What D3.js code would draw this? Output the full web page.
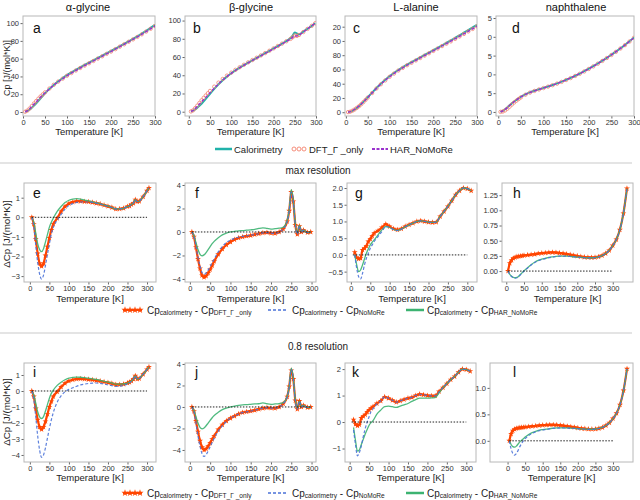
<!DOCTYPE html>
<html>
<head>
<meta charset="utf-8">
<script src="https://cdn.jsdelivr.net/npm/d3@7"></script>
<style>
  body { margin: 0; background: #fff; }
  svg text { font-family: "Liberation Sans", Arial, sans-serif; }
</style>
</head>
<body>
<svg id="chart" width="640" height="500"></svg>
<script>
// ---- top row: absolute heat capacity, Cp [J/(mol*K)] ----
const T_TOP = [5,10,15,20,25,30,35,40,45,50,60,70,80,90,100,110,120,130,140,150,160,170,180,190,200,210,220,230,240,250,260,270,280,290,300];
const T_TOP_B = [5,10,15,20,25,30,35,40,45,50,60,70,80,90,100,110,120,130,140,150,160,170,180,190,200,210,220,230,240,245,250,255,260,270,280,290,298];

const calA = [0.3,1.2,2.8,4.8,7.2,9.8,12.6,15.5,18.3,21,26,30.5,34.5,38,41.5,44.6,47.5,50.3,53,55.6,58.2,60.8,63.4,66,68.6,71.2,73.9,76.6,79.4,82.2,85.1,88.2,91.3,94.6,98];
const dftA = [0.3,1.6,3.9,6.7,9.6,12.3,15,17.5,19.8,22.1,26.4,30.6,34.2,37.5,40.8,43.8,46.7,49.5,52.2,54.8,57.4,60.1,62.7,65.4,68,70.7,73.5,76.2,79,81.7,84.5,87.4,90.5,93.6,96.7];
const harA = [0.3,1.5,3.6,6.2,8.9,11.6,14.2,16.8,19.2,21.5,26.1,30.3,34,37.3,40.7,43.7,46.6,49.4,52.1,54.8,57.4,60.1,62.7,65.4,68,70.7,73.5,76.2,79,81.7,84.5,87.4,90.5,93.6,96.7];

const calB = [0.3,1.1,2.6,4.4,6.5,8.8,11.3,14,16.8,19.6,25,30,34.5,38.5,42,45.3,48.3,51.1,53.8,56.4,59,61.6,64.2,66.8,69.4,72,74.7,77.5,80.8,83.5,87,85.8,84.8,87.9,91,94.2,97];
const dftB = [0.3,1.5,3.9,6.7,9.6,12.5,15.15,17.75,20.3,22.8,27.5,31.9,35.95,39.6,42.85,45.95,48.8,51.5,54.15,56.7,59.2,61.75,64.3,66.85,69.5,72.1,74.7,77.25,79.9,81.7,83.7,83.2,84.2,87.4,90.85,94.25,97];
const harB = [0.3,1.4,3.5,5.9,8.4,10.85,13.25,15.75,18.3,20.85,25.8,30.5,34.75,38.6,42,45.25,48.2,50.95,53.65,56.2,58.8,61.3,63.85,66.5,69.15,71.7,74.4,77.1,79.8,81.6,83.4,83.1,84.1,87.35,90.85,94.25,97];

const calC = [0.2,0.8,2,3.8,6,8.5,11.4,14.5,17.7,21,27.5,34,40,45.5,50.5,55,59.2,63,66.7,70.2,73.6,77,80.4,83.7,87,90.4,93.8,97.2,100.7,104.3,107.9,111.6,115.3,118.9,122.5];
const dftC = [0.2,0.7,2.1,3.9,6.1,8.4,11.2,14.2,17.3,20.5,26.9,33.3,39.2,44.6,49.7,54.2,58.5,62.2,65.9,69.3,72.7,76,79.4,82.7,86,89.4,92.8,96.1,99.4,102.9,106.3,109.8,113.4,116.9,120.5];
const harC = [0.2,0.8,2.3,4.2,6.3,8.7,11.5,14.4,17.4,20.6,27,33.4,39.3,44.7,49.7,54.3,58.5,62.3,65.9,69.4,72.8,76.1,79.5,82.8,86.1,89.5,92.9,96.2,99.5,103,106.4,109.9,113.5,117,120.6];

const calD = [0.3,1.5,3.5,6,8.8,11.4,13.8,16,18.2,20.2,23.4,26,28.2,30.1,32,33.9,35.9,38,40.3,42.8,45.4,48.2,51.1,54.2,57.5,60.9,64.5,68.2,72.1,76.1,80.3,84.7,89.2,94,99];
const dftD = [0.1,0.6,2,4.3,7,9.8,12.5,14.9,17.2,19.4,22.9,25.7,28,29.9,31.8,33.7,35.6,37.7,40,42.5,45.1,47.9,50.8,53.9,57.2,60.6,64.2,67.9,71.8,75.8,80,84.4,88.9,93.7,98.7];
const harD = [0.3,1.4,3.3,5.8,8.6,11.2,13.6,15.9,18.1,20.1,23.3,25.9,28.1,30,31.9,33.8,35.8,37.9,40.2,42.7,45.3,48.1,51,54.1,57.4,60.8,64.4,68.1,72,76,80.2,84.6,89.1,93.9,98.9];

// ---- difference panels, ΔCp [J/(mol*K)] ----
const T_GLY = [5,10,15,20,25,30,35,40,45,50,55,60,70,80,90,100,110,120,130,140,150,160,170,180,190,200,210,220,230,240,250,255,260,265,270,275,280,290,300,305];
const T_BETA = [5,10,15,20,25,30,35,40,45,50,55,60,70,80,90,100,110,120,130,140,150,160,170,180,190,200,210,220,230,240,245,250,255,260,265,270,275,280,290,298];
const T_ALA = [10,15,20,25,30,35,40,45,50,55,60,70,80,90,100,110,120,130,140,150,160,170,180,190,200,210,220,230,240,250,260,270,280,290,300,310];
const T_NAP = [5,10,15,20,25,30,35,40,45,50,60,70,80,90,100,110,120,130,140,150,160,170,180,190,200,210,220,230,240,250,260,270,280,290,300,310,320,330,340];

// max resolution
const dDftE = [0,-0.35,-1.1,-1.85,-2.35,-2.5,-2.35,-1.95,-1.5,-1.05,-0.65,-0.35,-0.05,0.3,0.55,0.7,0.78,0.82,0.82,0.8,0.79,0.76,0.72,0.68,0.62,0.56,0.5,0.42,0.43,0.46,0.55,0.58,0.65,0.72,0.9,0.8,0.82,1.05,1.35,1.5];
const dNmrE = [0,-0.45,-1.4,-2.3,-2.9,-3.15,-2.95,-2.45,-1.9,-1.35,-0.85,-0.5,-0.15,0.15,0.42,0.6,0.7,0.76,0.78,0.78,0.78,0.76,0.72,0.68,0.62,0.56,0.5,0.42,0.43,0.46,0.55,0.58,0.65,0.72,0.9,0.8,0.82,1.05,1.35,1.5];
const dHarE = [0,-0.25,-0.8,-1.35,-1.65,-1.75,-1.6,-1.25,-0.88,-0.5,-0.25,-0.05,0.3,0.55,0.75,0.87,0.93,0.95,0.93,0.88,0.84,0.79,0.74,0.69,0.63,0.57,0.5,0.43,0.43,0.46,0.55,0.58,0.65,0.72,0.9,0.8,0.82,1.05,1.35,1.5];

const dDftF = [0,-0.4,-1.3,-2.3,-3.1,-3.7,-3.85,-3.75,-3.5,-3.2,-2.85,-2.5,-1.9,-1.45,-1.1,-0.85,-0.65,-0.5,-0.42,-0.35,-0.3,-0.22,-0.15,-0.08,-0.05,-0.1,-0.12,0,0.25,0.9,1.8,3.4,2.6,0.6,-0.2,0.5,0,0.15,-0.05,0];
const dNmrF = [0,-0.4,-1.2,-2.15,-2.9,-3.45,-3.6,-3.5,-3.25,-2.95,-2.6,-2.3,-1.7,-1.25,-0.9,-0.7,-0.55,-0.45,-0.38,-0.32,-0.28,-0.22,-0.15,-0.08,-0.05,-0.1,-0.12,0,0.25,0.9,1.8,3.4,2.6,0.6,-0.2,0.5,0,0.15,-0.05,0];
const dHarF = [0,-0.3,-0.9,-1.5,-1.9,-2.03,-1.95,-1.75,-1.5,-1.25,-1.0,-0.8,-0.5,-0.25,-0.1,0,0.05,0.1,0.12,0.15,0.18,0.22,0.3,0.35,0.3,0.25,0.28,0.32,0.4,1.0,1.9,3.6,2.7,0.7,-0.1,0.55,0.05,0.15,-0.05,0];

const dDftG = [0.08,-0.08,-0.12,-0.1,0.15,0.2,0.27,0.4,0.48,0.57,0.65,0.72,0.82,0.92,0.85,0.78,0.75,0.78,0.85,0.9,0.95,1.0,1.02,1.0,0.98,0.97,0.98,1.15,1.3,1.45,1.62,1.8,1.92,2.0,1.98,1.92];
const dNmrG = [0,-0.4,-0.65,-0.72,-0.55,-0.3,-0.1,0.05,0.2,0.3,0.4,0.55,0.7,0.85,0.82,0.76,0.73,0.77,0.84,0.9,0.95,1.0,1.02,1.0,0.98,0.97,0.98,1.15,1.3,1.45,1.62,1.8,1.92,2.0,1.98,1.92];
const dHarG = [0,-0.3,-0.5,-0.45,-0.3,-0.12,0.05,0.18,0.3,0.38,0.45,0.6,0.75,0.85,0.82,0.76,0.73,0.77,0.84,0.9,0.95,1.0,1.02,1.0,0.98,0.97,0.98,1.15,1.3,1.45,1.62,1.8,1.92,2.0,1.98,1.92];

const dDftH = [0,0.13,0.18,0.21,0.225,0.236,0.242,0.247,0.252,0.258,0.265,0.27,0.278,0.288,0.295,0.3,0.305,0.307,0.305,0.298,0.29,0.28,0.27,0.258,0.248,0.238,0.23,0.225,0.222,0.225,0.235,0.255,0.29,0.34,0.42,0.52,0.68,0.95,1.36];
const dNmrH = [0,-0.06,-0.09,-0.11,-0.115,-0.11,-0.09,-0.06,-0.03,0,0.05,0.1,0.14,0.17,0.19,0.205,0.22,0.23,0.24,0.245,0.245,0.243,0.24,0.235,0.23,0.225,0.22,0.218,0.218,0.222,0.233,0.254,0.29,0.34,0.42,0.52,0.68,0.95,1.36];
const dHarH = [0,-0.055,-0.085,-0.105,-0.11,-0.105,-0.085,-0.055,-0.025,0.005,0.055,0.105,0.145,0.175,0.195,0.21,0.225,0.235,0.243,0.247,0.247,0.245,0.241,0.236,0.231,0.226,0.221,0.219,0.219,0.223,0.234,0.255,0.29,0.34,0.42,0.52,0.68,0.95,1.36];

// 0.8 resolution
const dDftI = [0,-0.35,-1.1,-1.8,-2.25,-2.4,-2.25,-1.9,-1.45,-1.0,-0.65,-0.35,-0.05,0.25,0.48,0.62,0.7,0.75,0.76,0.75,0.72,0.7,0.66,0.62,0.57,0.52,0.47,0.4,0.4,0.43,0.5,0.55,0.62,0.75,0.95,0.75,0.78,1.05,1.35,1.5];
const dNmrI = [0,-0.5,-1.6,-2.8,-3.7,-4.15,-4.0,-3.55,-2.95,-2.35,-1.8,-1.35,-0.7,-0.3,-0.05,0.1,0.2,0.3,0.38,0.43,0.47,0.49,0.5,0.48,0.44,0.38,0.33,0.28,0.3,0.35,0.45,0.52,0.6,0.75,0.95,0.75,0.78,1.05,1.35,1.5];
const dHarI = [0,-0.25,-0.75,-1.3,-1.62,-1.72,-1.6,-1.25,-0.85,-0.45,-0.15,0.05,0.35,0.55,0.7,0.8,0.85,0.87,0.86,0.83,0.8,0.76,0.72,0.67,0.6,0.55,0.5,0.43,0.43,0.45,0.5,0.55,0.62,0.75,0.95,0.75,0.78,1.05,1.35,1.5];

const dDftJ = [0,-0.4,-1.3,-2.3,-3.15,-3.75,-4.0,-3.9,-3.65,-3.35,-3.0,-2.7,-2.1,-1.65,-1.3,-1.05,-0.85,-0.65,-0.52,-0.45,-0.38,-0.3,-0.2,-0.12,-0.08,-0.1,-0.12,0,0.3,0.95,1.9,3.4,2.6,0.6,-0.2,0.55,0,0.15,-0.05,0];
const dNmrJ = [0,-0.45,-1.5,-2.7,-3.65,-4.35,-4.6,-4.45,-4.1,-3.7,-3.3,-2.9,-2.25,-1.75,-1.35,-1.05,-0.85,-0.65,-0.52,-0.45,-0.38,-0.3,-0.2,-0.12,-0.08,-0.1,-0.12,0,0.3,0.95,1.9,3.5,2.6,0.6,-0.2,0.55,0,0.15,-0.05,0];
const dHarJ = [0,-0.3,-0.9,-1.5,-1.9,-2.03,-1.95,-1.75,-1.5,-1.25,-1.0,-0.8,-0.5,-0.25,-0.1,0,0.08,0.15,0.2,0.22,0.25,0.28,0.3,0.38,0.3,0.25,0.28,0.32,0.4,1.0,1.9,3.6,2.7,0.7,-0.1,0.55,0.05,0.15,-0.05,0];

const dDftK = [0.09,-0.08,-0.14,-0.1,0.15,0.22,0.28,0.38,0.46,0.52,0.58,0.7,0.8,0.95,0.9,0.82,0.75,0.8,0.85,0.9,0.93,1.0,1.05,1.03,1.0,0.99,0.99,1.15,1.3,1.45,1.6,1.72,1.88,2.0,1.98,1.92];
const dNmrK = [-0.3,-0.85,-1.28,-1.15,-0.9,-0.55,-0.25,0,0.2,0.4,0.5,0.68,0.8,0.95,0.9,0.82,0.75,0.8,0.85,0.9,0.93,1.0,1.05,1.03,1.0,0.99,0.99,1.15,1.3,1.45,1.6,1.72,1.88,2.0,1.98,1.92];
const dHarK = [-0.2,-0.7,-1.1,-1.05,-0.85,-0.65,-0.45,-0.28,-0.12,-0.02,0.05,0.3,0.45,0.58,0.6,0.58,0.55,0.6,0.65,0.7,0.78,0.85,0.9,0.9,0.9,0.91,0.92,1.1,1.3,1.45,1.6,1.72,1.88,2.0,1.98,1.92];

const dDftL = [0,0.13,0.19,0.22,0.235,0.242,0.248,0.252,0.256,0.26,0.268,0.275,0.282,0.29,0.297,0.3,0.303,0.303,0.3,0.293,0.285,0.275,0.265,0.255,0.245,0.235,0.228,0.223,0.22,0.223,0.233,0.253,0.29,0.34,0.42,0.52,0.68,0.95,1.36];
const dNmrL = [0,-0.15,-0.24,-0.27,-0.24,-0.18,-0.11,-0.05,0,0.04,0.1,0.14,0.17,0.19,0.205,0.215,0.225,0.235,0.24,0.243,0.243,0.241,0.238,0.234,0.229,0.224,0.22,0.218,0.218,0.222,0.233,0.254,0.29,0.34,0.42,0.52,0.68,0.95,1.36];
const dHarL = [0,-0.07,-0.11,-0.12,-0.1,-0.06,-0.02,0.01,0.04,0.07,0.12,0.155,0.18,0.2,0.212,0.222,0.23,0.238,0.243,0.246,0.246,0.244,0.24,0.235,0.23,0.225,0.221,0.219,0.219,0.223,0.234,0.255,0.29,0.34,0.42,0.52,0.68,0.95,1.36];

const TITLES = ['α-glycine', 'β-glycine', 'L-alanine', 'naphthalene'];
const X_TICKS = [0, 50, 100, 150, 200, 250, 300];
const ZERO_SPAN = [5, 300];

const COLORS = {
  cal: '#20b2aa',
  dftOpen: '#f4826e',
  har: '#9a32cd',
  dft: '#ff4500',
  nmr: '#4a72d8',
  harD: '#3cb371'
};

const svg = d3.select('#chart');
let clipId = 0;

/**
 * Frame, ticks and clip for one panel
 */
function drawAxes(p) {
  const x = d3.scaleLinear().domain(p.xDomain).range([p.left, p.right]);
  const y = d3.scaleLinear().domain(p.yDomain).range([p.bottom, p.top]);
  const g = svg.append('g');

  const xAxis = g.append('g')
    .attr('transform', `translate(0,${p.bottom})`)
    .call(d3.axisBottom(x).tickValues(X_TICKS).tickSize(2.5).tickPadding(1).tickSizeOuter(0));
  const yAxis = g.append('g')
    .attr('transform', `translate(${p.left},0)`)
    .call(d3.axisLeft(y).tickValues(p.yTicks).tickFormat(p.yFormat).tickSize(2.5).tickPadding(1.5).tickSizeOuter(0));
  [xAxis, yAxis].forEach(a => {
    a.select('.domain').remove();
    a.selectAll('line').attr('stroke', '#666');
    a.selectAll('text').attr('font-size', 7.5).attr('fill', '#333')
      .style('font-family', '"Liberation Sans", Arial, sans-serif');
  });

  g.append('rect')
    .attr('x', p.left).attr('y', p.top)
    .attr('width', p.right - p.left).attr('height', p.bottom - p.top)
    .attr('fill', 'none').attr('stroke', '#b8b8b8').attr('stroke-width', 1);

  const id = 'clip' + (clipId++);
  g.append('clipPath').attr('id', id).append('rect')
    .attr('x', p.left).attr('y', p.top)
    .attr('width', p.right - p.left).attr('height', p.bottom - p.top);
  const plot = g.append('g').attr('clip-path', `url(#${id})`);

  g.append('text')
    .attr('x', (p.left + p.right) / 2).attr('y', p.xLabelY)
    .attr('text-anchor', 'middle').attr('font-size', 9.5).attr('fill', '#222')
    .text('Temperature [K]');

  g.append('text')
    .attr('x', p.letterX).attr('y', p.letterY)
    .attr('font-size', 14).attr('fill', '#111')
    .text(p.letter);

  return { x, y, plot };
}

function seriesLine(x, y, T) {
  return d3.line().curve(d3.curveMonotoneX).x((d, i) => x(T[i])).y(d => y(d));
}

/**
 * Top row: Cp from calorimetry, DFT and HAR
 */
function drawCpPanel(p, T, cal, dft, har) {
  const { x, y, plot } = drawAxes(p);
  const line = seriesLine(x, y, T);

  plot.append('path').attr('d', line(cal))
    .attr('fill', 'none').attr('stroke', COLORS.cal).attr('stroke-width', 2);

  plot.selectAll('circle.dft').data(dft).join('circle')
    .attr('cx', (d, i) => x(T[i])).attr('cy', d => y(d)).attr('r', 1.7)
    .attr('fill', 'none').attr('stroke', COLORS.dftOpen).attr('stroke-width', 0.8);

  plot.append('path').attr('d', line(har))
    .attr('fill', 'none').attr('stroke', COLORS.har).attr('stroke-width', 1.4)
    .attr('stroke-dasharray', '3,2');
}

/**
 * Difference panels
 */
function drawDeltaPanel(p, T, dft, nmr, har) {
  const { x, y, plot } = drawAxes(p);
  const line = seriesLine(x, y, T);

  plot.append('path').attr('d', line(dft))
    .attr('fill', 'none').attr('stroke', COLORS.dft).attr('stroke-width', 2.2);
  plot.selectAll('path.star').data(dft).join('path')
    .attr('class', 'star')
    .attr('transform', (d, i) => `translate(${x(T[i])},${y(d)})`)
    .attr('d', d3.symbol(d3.symbolStar, 11))
    .attr('fill', COLORS.dft);

  plot.append('path').attr('d', line(har))
    .attr('fill', 'none').attr('stroke', COLORS.harD).attr('stroke-width', 1.3)
    .attr('stroke-opacity', 0.9);

  plot.append('path').attr('d', line(nmr))
    .attr('fill', 'none').attr('stroke', COLORS.nmr).attr('stroke-width', 1.2)
    .attr('stroke-dasharray', '3,2').attr('stroke-opacity', 0.9);

  plot.append('path')
    .attr('d', d3.line().x(d => x(d)).y(() => y(0))(ZERO_SPAN))
    .attr('stroke', '#222').attr('stroke-width', 1).attr('stroke-dasharray', '1.5,1.5');
}

const fmt0 = d => d3.format('d')(d);
const TOP = { top: 16, bottom: 116, xLabelY: 134.5, letterY: 33 };
const MID = { top: 183, bottom: 282, xLabelY: 301.5, letterY: 198 };
const BOT = { top: 363, bottom: 462, xLabelY: 480.5, letterY: 377 };

// top row
drawCpPanel({ ...TOP, left: 23, right: 155, xDomain: [0, 300], yDomain: [-4.5, 108],
  yTicks: [0, 20, 40, 60, 80, 100], yFormat: fmt0, letter: 'a', letterX: 33 }, T_TOP, calA, dftA, harA);
drawCpPanel({ ...TOP, left: 185, right: 316, xDomain: [-9, 300], yDomain: [-4.7, 105],
  yTicks: [0, 20, 40, 60, 80, 100], yFormat: fmt0, letter: 'b', letterX: 193 }, T_TOP_B, calB, dftB, harB);
drawCpPanel({ ...TOP, left: 345, right: 477, xDomain: [-2, 300], yDomain: [-5.3, 135],
  yTicks: [0, 20, 40, 60, 80, 100, 120], yFormat: d => String(d).slice(-2), letter: 'c', letterX: 353 }, T_TOP, calC, dftC, harC);
drawCpPanel({ ...TOP, left: 496, right: 634, xDomain: [-5, 300], yDomain: [-5.4, 127.7],
  yTicks: [0, 25, 50, 75, 100, 125], yFormat: d => String(d).slice(-1), letter: 'd', letterX: 512 }, T_TOP, calD, dftD, harD);

// max resolution
drawDeltaPanel({ ...MID, left: 24, right: 156, xDomain: [-15, 323], yDomain: [-3.3, 1.75],
  yTicks: [-3, -2, -1, 0, 1], yFormat: d3.format('d'), letter: 'e', letterX: 33 }, T_GLY, dDftE, dNmrE, dHarE);
drawDeltaPanel({ ...MID, left: 185, right: 316, xDomain: [-12, 311], yDomain: [-4.26, 4.17],
  yTicks: [-4, -2, 0, 2, 4], yFormat: d3.format('d'), letter: 'f', letterX: 195 }, T_BETA, dDftF, dNmrF, dHarF);
drawDeltaPanel({ ...MID, left: 347, right: 477, xDomain: [-10, 325], yDomain: [-0.81, 2.15],
  yTicks: [-0.5, 0, 0.5, 1, 1.5, 2], yFormat: d3.format('.1f'), letter: 'g', letterX: 355 }, T_ALA, dDftG, dNmrG, dHarG);
drawDeltaPanel({ ...MID, left: 502, right: 633, xDomain: [-12, 357], yDomain: [-0.18, 1.45],
  yTicks: [0, 0.25, 0.5, 0.75, 1, 1.25], yFormat: d3.format('.2f'), letter: 'h', letterX: 513 }, T_NAP, dDftH, dNmrH, dHarH);

// 0.8 resolution
drawDeltaPanel({ ...BOT, left: 24, right: 156, xDomain: [-15, 323], yDomain: [-4.44, 1.75],
  yTicks: [-4, -3, -2, -1, 0, 1], yFormat: d3.format('d'), letter: 'i', letterX: 33 }, T_GLY, dDftI, dNmrI, dHarI);
drawDeltaPanel({ ...BOT, left: 185, right: 316, xDomain: [-12, 311], yDomain: [-5.12, 4.09],
  yTicks: [-4, -2, 0, 2, 4], yFormat: d3.format('d'), letter: 'j', letterX: 195 }, T_BETA, dDftJ, dNmrJ, dHarJ);
drawDeltaPanel({ ...BOT, left: 345, right: 476, xDomain: [-12, 325], yDomain: [-1.51, 2.23],
  yTicks: [-1, 0, 1, 2], yFormat: d3.format('d'), letter: 'k', letterX: 352 }, T_ALA, dDftK, dNmrK, dHarK);
drawDeltaPanel({ ...BOT, left: 490, right: 633, xDomain: [-50, 357], yDomain: [-0.4, 1.47],
  yTicks: [0, 0.5, 1], yFormat: d3.format('.1f'), letter: 'l', letterX: 513 }, T_NAP, dDftL, dNmrL, dHarL);

// titles and y labels
const titleX = [88, 251, 416, 576];
TITLES.forEach((t, i) => {
  svg.append('text').attr('x', titleX[i]).attr('y', 10.5)
    .attr('text-anchor', 'middle').attr('font-size', 11).attr('fill', '#111').text(t);
});

function yLabel(cy, label, size) {
  svg.append('text')
    .attr('transform', `translate(9.5,${cy}) rotate(-90)`)
    .attr('text-anchor', 'middle').attr('font-size', size).attr('fill', '#222')
    .text(label);
}
yLabel(68, 'Cp [J/(mol*K)]', 9);
yLabel(234, 'ΔCp [J/(mol*K)]', 9.8);
yLabel(412, 'ΔCp [J/(mol*K)]', 9.8);

// separators and section headings
[163, 333].forEach(yy => {
  svg.append('line').attr('x1', 0).attr('x2', 632).attr('y1', yy).attr('y2', yy)
    .attr('stroke', '#e4e4e4').attr('stroke-width', 2);
});
svg.append('text').attr('x', 318).attr('y', 174).attr('text-anchor', 'middle')
  .attr('font-size', 10).attr('fill', '#222').text('max resolution');
svg.append('text').attr('x', 318).attr('y', 350).attr('text-anchor', 'middle')
  .attr('font-size', 10).attr('fill', '#222').text('0.8 resolution');

// top legend
const legTop = svg.append('g').attr('font-size', 9.5).attr('fill', '#222');
legTop.append('line').attr('x1', 215).attr('x2', 232).attr('y1', 149).attr('y2', 149)
  .attr('stroke', COLORS.cal).attr('stroke-width', 2.5);
legTop.append('text').attr('x', 234).attr('y', 152.5).text('Calorimetry');
[294, 299, 304].forEach(cx => {
  legTop.append('circle').attr('cx', cx).attr('cy', 149).attr('r', 2)
    .attr('fill', 'none').attr('stroke', COLORS.dftOpen).attr('stroke-width', 0.9);
});
legTop.append('text').attr('x', 309).attr('y', 152.5).text('DFT_Γ _only');
legTop.append('line').attr('x1', 372).attr('x2', 388).attr('y1', 149).attr('y2', 149)
  .attr('stroke', COLORS.har).attr('stroke-width', 2).attr('stroke-dasharray', '3,1.5');
legTop.append('text').attr('x', 390).attr('y', 152.5).text('HAR_NoMoRe');

// difference legends
function cpText(g, x, y, sub) {
  const t = g.append('text').attr('x', x).attr('y', y).attr('font-size', 10).attr('fill', '#222');
  t.append('tspan').text('Cp');
  t.append('tspan').attr('font-size', 6.6).attr('dy', 1.5).text('calorimetry');
  t.append('tspan').attr('dy', -1.5).text(' - Cp');
  t.append('tspan').attr('font-size', 6.6).attr('dy', 1.5).text(sub);
}

function deltaLegend(cy) {
  const g = svg.append('g');
  g.append('line').attr('x1', 123).attr('x2', 142).attr('y1', cy).attr('y2', cy)
    .attr('stroke', COLORS.dft).attr('stroke-width', 2);
  [125, 130, 135, 140].forEach(cx => {
    g.append('path').attr('transform', `translate(${cx},${cy})`)
      .attr('d', d3.symbol(d3.symbolStar, 16)).attr('fill', COLORS.dft);
  });
  cpText(g, 147, cy + 3.5, 'DFT_Γ _only');

  g.append('line').attr('x1', 268).attr('x2', 288).attr('y1', cy).attr('y2', cy)
    .attr('stroke', COLORS.nmr).attr('stroke-width', 1.6).attr('stroke-dasharray', '3,2');
  cpText(g, 292, cy + 3.5, 'NoMoRe');

  g.append('line').attr('x1', 406).attr('x2', 424).attr('y1', cy).attr('y2', cy)
    .attr('stroke', COLORS.harD).attr('stroke-width', 2.5);
  cpText(g, 427, cy + 3.5, 'HAR_NoMoRe');
}
deltaLegend(310);
deltaLegend(493);
</script>
</body>
</html>
